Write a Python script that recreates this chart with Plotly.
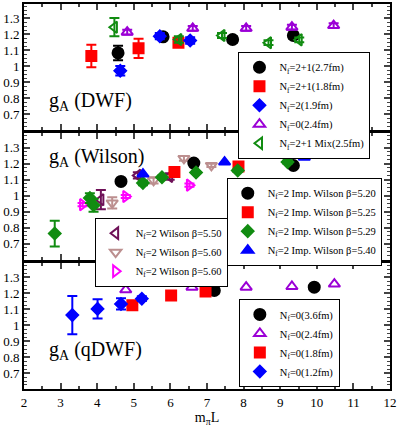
import plotly.graph_objects as go
from plotly.subplots import make_subplots

# ---- panel 1 : DWF ----
dwf27_x = [4.57, 5.80, 7.70, 9.36]
dwf27_y = [1.084, 1.185, 1.168, 1.193]
dwf27_e = [0.045, 0.02, 0.02, 0.02]
dwf18_x = [3.84, 5.13, 6.22]
dwf18_y = [1.065, 1.113, 1.148]
dwf18_e = [0.07, 0.06, 0.02]
dwf19_x = [4.63, 5.71, 6.54]
dwf19_y = [0.973, 1.189, 1.162]
dwf19_e = [0.03, 0.02, 0.02]
dwf24_x = [4.82, 6.61, 8.07, 9.32, 10.46]
dwf24_y = [1.214, 1.238, 1.238, 1.245, 1.255]
dwf24_e = [0.015, 0.015, 0.015, 0.015, 0.015]
mix25_x = [4.47, 6.23, 7.41, 8.68, 9.52]
mix25_y = [1.245, 1.168, 1.193, 1.148, 1.166]
mix25_e = [0.057, 0.02, 0.015, 0.015, 0.015]

# ---- panel 2 : Wilson ----
w550_x = [4.10, 5.11, 5.98]
w550_y = [0.975, 1.127, 1.12]
w550_e = [0.06, 0.02, 0.02]
w560_x = [4.41, 5.54, 6.37, 7.12]
w560_y = [0.955, 1.096, 1.233, 1.189]
w560_e = [0.035, 0.02, 0.015, 0.01]
w560b_x = [3.60, 4.78, 6.52]
w560b_y = [0.944, 0.995, 1.066]
w560b_e = [0.01, 0.01, 0.01]
imp520_x = [4.65, 6.64, 9.36]
imp520_y = [1.089, 1.204, 1.189]
imp525_x = [6.11, 7.86]
imp525_y = [1.148, 1.183]
imp529_x = [2.84, 3.80, 3.90, 5.25, 5.77, 6.70, 7.84, 9.20]
imp529_y = [0.763, 0.985, 0.94, 1.08, 1.115, 1.145, 1.158, 1.21]
imp529_e = [0.08, 0.03, 0.04, 0.015, 0.01, 0.01, 0.01, 0.01]
imp540_x = [5.25, 7.48, 9.66]
imp540_y = [1.135, 1.21, 1.241]

# ---- panel 3 : quenched DWF ----
q36_x = [7.20, 9.93]
q36_y = [1.216, 1.237]
q36_e = [0.02, 0.01]
q24_x = [4.78, 6.59, 8.07, 9.32, 10.48]
q24_y = [1.22, 1.237, 1.237, 1.241, 1.256]
q18_x = [4.96, 6.02, 6.96]
q18_y = [1.123, 1.185, 1.21]
q12_x = [3.32, 4.01, 4.65, 5.22]
q12_y = [1.062, 1.101, 1.132, 1.165]
q12_e = [0.12, 0.06, 0.035, 0.015]

FONT = "Liberation Serif"
BLACK, RED, BLUE = "#000000", "#ff0000", "#0000ff"
PURPLE, GREEN = "#9b00d6", "#118c11"
MAROON, TAN, MAGENTA = "#6e1057", "#bc8f8f", "#ff00ff"

# marker sizes per symbol (line width 2 is added on top)
SIZES = {"circle": 11, "square": 10, "diamond": 9, "triangle-up": 10,
         "triangle-up-open": 10, "triangle-left-open": 10,
         "triangle-down-open": 10, "triangle-right-open": 10}

fig = make_subplots(rows=3, cols=1, shared_xaxes=True, vertical_spacing=0.0078)


def add(x, y, name, color, symbol, row, legend, err=None):
    tr = go.Scatter(
        x=x, y=y, mode="markers", name=name, legend=legend,
        marker=dict(color=color, symbol=symbol, size=SIZES[symbol],
                    line=dict(color=color, width=2)),
    )
    if err is not None:
        tr.error_y = dict(type="data", array=err, color=color, thickness=2, width=5)
    fig.add_trace(tr, row=row, col=1)


nf = "N<sub>f</sub>"
add(dwf27_x, dwf27_y, nf + "=2+1(2.7fm)", BLACK, "circle", 1, "legend", dwf27_e)
add(dwf18_x, dwf18_y, nf + "=2+1(1.8fm)", RED, "square", 1, "legend", dwf18_e)
add(dwf19_x, dwf19_y, nf + "=2(1.9fm)", BLUE, "diamond", 1, "legend", dwf19_e)
add(dwf24_x, dwf24_y, nf + "=0(2.4fm)", PURPLE, "triangle-up-open", 1, "legend", dwf24_e)
add(mix25_x, mix25_y, nf + "=2+1 Mix(2.5fm)", GREEN, "triangle-left-open", 1, "legend", mix25_e)

add(w550_x, w550_y, nf + "=2 Wilson β=5.50", MAROON, "triangle-left-open", 2, "legend2", w550_e)
add(w560_x, w560_y, nf + "=2 Wilson β=5.60", TAN, "triangle-down-open", 2, "legend2", w560_e)
add(w560b_x, w560b_y, nf + "=2 Wilson β=5.60", MAGENTA, "triangle-right-open", 2, "legend2", w560b_e)
add(imp520_x, imp520_y, nf + "=2 Imp. Wilson β=5.20", BLACK, "circle", 2, "legend3")
add(imp525_x, imp525_y, nf + "=2 Imp. Wilson β=5.25", RED, "square", 2, "legend3")
add(imp529_x, imp529_y, nf + "=2 Imp. Wilson β=5.29", GREEN, "diamond", 2, "legend3", imp529_e)
add(imp540_x, imp540_y, nf + "=2 Imp. Wilson β=5.40", BLUE, "triangle-up", 2, "legend3")

add(q36_x, q36_y, nf + "=0(3.6fm)", BLACK, "circle", 3, "legend4", q36_e)
add(q24_x, q24_y, nf + "=0(2.4fm)", PURPLE, "triangle-up-open", 3, "legend4")
add(q18_x, q18_y, nf + "=0(1.8fm)", RED, "square", 3, "legend4")
add(q12_x, q12_y, nf + "=0(1.2fm)", BLUE, "diamond", 3, "legend4", q12_e)

leg = dict(font=dict(family=FONT, size=10.5, color="black"), bgcolor="white",
           bordercolor="black", borderwidth=1, xanchor="left", yanchor="top",
           tracegroupgap=0, itemwidth=30)

for i in (1, 2, 3):
    fig.update_xaxes(
        range=[2, 12], dtick=1, tick0=2, ticks="inside", ticklen=6, tickwidth=2,
        showline=True, linewidth=2, linecolor="black", mirror="ticks",
        showgrid=False, zeroline=False, showticklabels=(i == 3),
        minor=dict(dtick=0.5, ticks="inside", ticklen=3, tickwidth=1.5),
        tickfont=dict(family=FONT, size=13, color="black"),
        row=i, col=1)
    fig.update_yaxes(
        range=[0.6, 1.39], tickvals=[0.7, 0.8, 0.9, 1.0, 1.1, 1.2, 1.3],
        ticktext=["0.7", "0.8", "0.9", "1", "1.1", "1.2", "1.3"],
        ticks="inside", ticklen=6, tickwidth=2,
        showline=True, linewidth=2, linecolor="black", mirror="ticks",
        showgrid=False, zeroline=False,
        minor=dict(dtick=0.025, tick0=0.6, ticks="inside", ticklen=3, tickwidth=1),
        tickfont=dict(family=FONT, size=13, color="black"),
        row=i, col=1)

fig.update_xaxes(title=dict(text="m<sub>π</sub>L", font=dict(family=FONT, size=14, color="black"),
                            standoff=2), row=3, col=1)

labels = [("g<sub>A</sub> (DWF)", "x", "y", 0.78),
          ("g<sub>A</sub> (Wilson)", "x2", "y2", 1.24),
          ("g<sub>A</sub> (qDWF)", "x3", "y3", 0.84)]
for txt, xr, yr, yv in labels:
    fig.add_annotation(text=txt, x=2.63, y=yv, xref=xr, yref=yr, showarrow=False,
                       xanchor="left", yanchor="middle",
                       font=dict(family=FONT, size=20, color="black"))

fig.update_layout(
    width=399, height=427,
    margin=dict(l=24, r=8, t=2, b=38),
    paper_bgcolor="white", plot_bgcolor="white",
    font=dict(family=FONT, color="black"),
    legend=dict(leg, x=0.586, y=0.876),
    legend2=dict(leg, x=0.193, y=0.445),
    legend3=dict(leg, x=0.554, y=0.549),
    legend4=dict(leg, x=0.587, y=0.234),
)

fig.write_html("out.html", config={"displayModeBar": False},
               post_script="document.body.style.margin='0px';")
